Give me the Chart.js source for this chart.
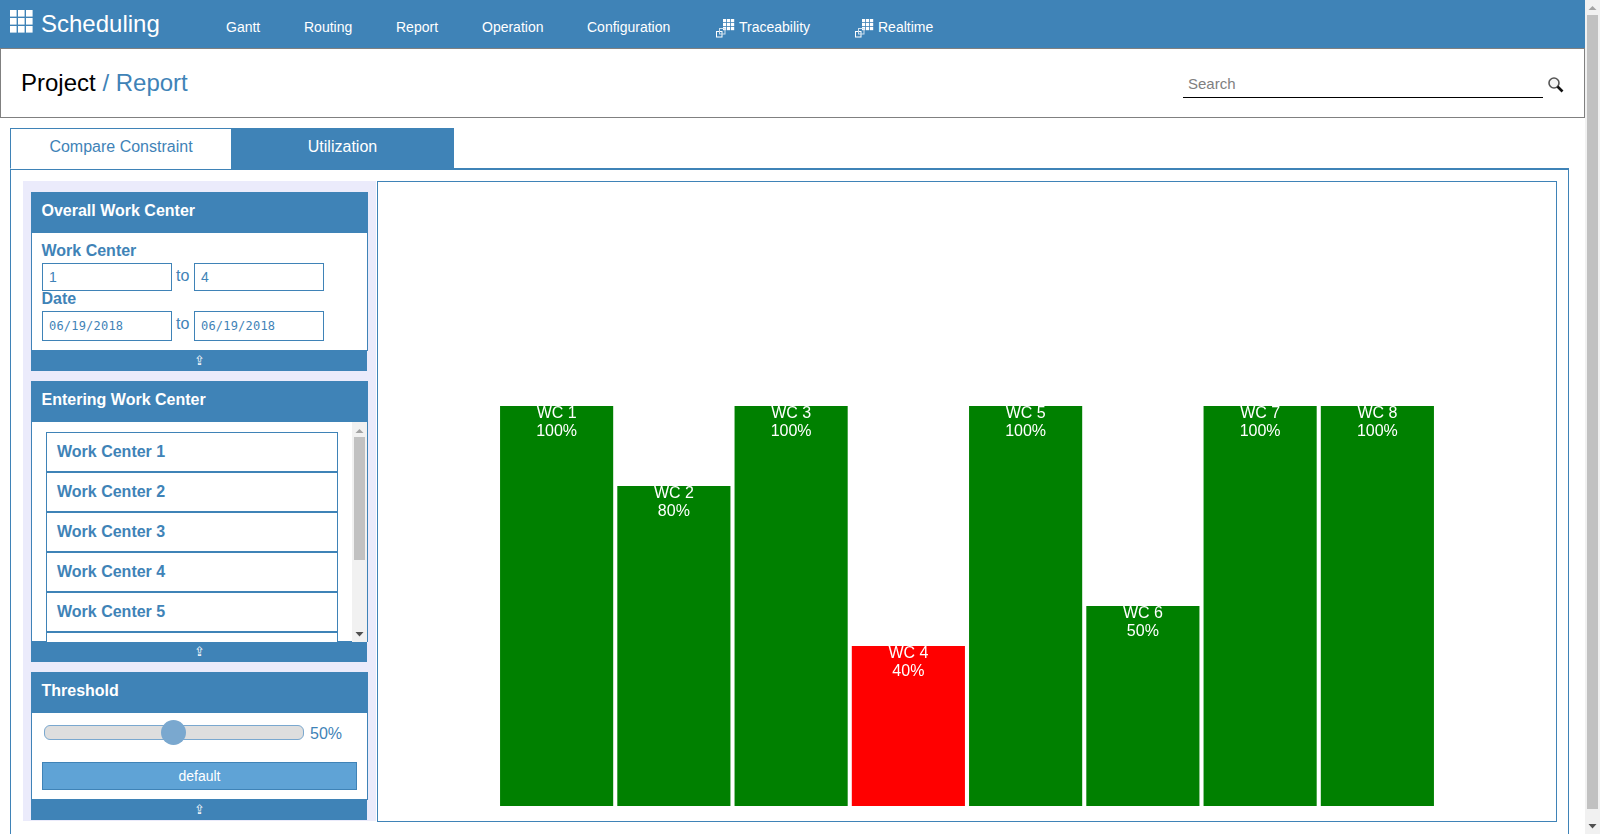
<!DOCTYPE html>
<html><head><meta charset="utf-8"><title>Scheduling</title>
<script src="https://cdn.jsdelivr.net/npm/chart.js@4"></script>
<style>
html,body{margin:0;padding:0;width:1600px;height:834px;overflow:hidden;background:#fff;font-family:"Liberation Sans",Arial,sans-serif;color:#3f83b7}
.a{position:absolute;box-sizing:border-box}
.t{position:absolute;white-space:nowrap;line-height:20px}
.blue{background:#3f83b7}
.white{color:#fff}
.b{font-weight:bold;font-size:16px}
.inp{position:absolute;box-sizing:border-box;background:#fff;border:1px solid #3f83b7;border-width:1px;font-size:14px;padding-left:6px;line-height:26px}
.foot{position:absolute;left:31px;width:336px;height:20px;background:#3f83b7;color:#fff;text-align:center;font-size:13px;line-height:20px}
.item{position:absolute;left:46px;width:292px;height:41px;box-sizing:border-box;border:1px solid #3f83b7;border-bottom:2px solid #3f83b7;font-weight:bold;font-size:16px;padding:9px 0 0 10px;line-height:20px;background:#fff}
.nav{top:17px;font-size:14px;color:#fff}
svg{position:absolute;display:block}
</style></head><body>
<div class="a blue" style="left:0;top:0;width:1585px;height:48px"></div>
<svg style="left:10px;top:10px" width="23" height="23"><g fill="#fff"><rect x="0" y="0" width="6.6" height="6.6"/><rect x="8" y="0" width="6.6" height="6.6"/><rect x="16" y="0" width="6.6" height="6.6"/><rect x="0" y="8" width="6.6" height="6.6"/><rect x="8" y="8" width="6.6" height="6.6"/><rect x="16" y="8" width="6.6" height="6.6"/><rect x="0" y="16" width="6.6" height="6.6"/><rect x="8" y="16" width="6.6" height="6.6"/><rect x="16" y="16" width="6.6" height="6.6"/></g></svg>
<div class="t white" style="left:41px;top:13px;font-size:24px;line-height:22px">Scheduling</div>
<div class="t nav" style="left:226px">Gantt</div>
<div class="t nav" style="left:304px">Routing</div>
<div class="t nav" style="left:396px">Report</div>
<div class="t nav" style="left:482px">Operation</div>
<div class="t nav" style="left:587px">Configuration</div>
<svg style="left:716px;top:18px" width="22" height="20"><g fill="#fff"><rect x="7" y="1" width="3.2" height="3.2"/><rect x="11" y="1" width="3.2" height="3.2"/><rect x="15" y="1" width="3.2" height="3.2"/><rect x="7" y="5" width="3.2" height="3.2"/><rect x="11" y="5" width="3.2" height="3.2"/><rect x="15" y="5" width="3.2" height="3.2"/><rect x="7" y="9" width="3.2" height="3.2"/><rect x="11" y="9" width="3.2" height="3.2"/><rect x="15" y="9" width="3.2" height="3.2"/></g><rect x="0.5" y="13.5" width="5.5" height="5.5" fill="none" stroke="#fff" stroke-width="1"/><rect x="3.5" y="10.5" width="5.5" height="5.5" fill="none" stroke="#cfe0ee" stroke-width="1"/></svg>
<div class="t nav" style="left:739px">Traceability</div>
<svg style="left:855px;top:18px" width="22" height="20"><g fill="#fff"><rect x="7" y="1" width="3.2" height="3.2"/><rect x="11" y="1" width="3.2" height="3.2"/><rect x="15" y="1" width="3.2" height="3.2"/><rect x="7" y="5" width="3.2" height="3.2"/><rect x="11" y="5" width="3.2" height="3.2"/><rect x="15" y="5" width="3.2" height="3.2"/><rect x="7" y="9" width="3.2" height="3.2"/><rect x="11" y="9" width="3.2" height="3.2"/><rect x="15" y="9" width="3.2" height="3.2"/></g><rect x="0.5" y="13.5" width="5.5" height="5.5" fill="none" stroke="#fff" stroke-width="1"/><rect x="3.5" y="10.5" width="5.5" height="5.5" fill="none" stroke="#cfe0ee" stroke-width="1"/></svg>
<div class="t nav" style="left:878px">Realtime</div>

<div class="a" style="left:0;top:48px;width:1585px;height:70px;border:1px solid #808080;border-top:1px solid #808080"></div>
<div class="t" style="left:21px;top:72px;font-size:24px;line-height:22px;color:#000">Project <span style="color:#3f83b7">/ Report</span></div>
<div class="t" style="left:1188px;top:74px;font-size:15px;color:#808080">Search</div>
<div class="a" style="left:1183px;top:97px;width:360px;height:1px;background:#000"></div>
<svg style="left:1547px;top:76px" width="18" height="18"><circle cx="7" cy="7" r="5" fill="#f4f4f4" stroke="#555" stroke-width="1.6"/><path d="M10.5 10.5L15.5 15.5" stroke="#111" stroke-width="2.6"/></svg>

<div class="a" style="left:1585px;top:0;width:15px;height:834px;background:#f1f1f1"></div>
<div class="a" style="left:1587px;top:15px;width:11px;height:794px;background:#c1c1c1"></div>
<svg style="left:1585px;top:0" width="15" height="834"><path d="M3.5 10L7.5 6L11.5 10Z" fill="#a3a3a3"/><path d="M3.5 824L7.5 828.5L11.5 824Z" fill="#505050"/></svg>

<div class="a" style="left:10px;top:168px;width:1559px;height:670px;border:1px solid #3f83b7;border-width:2px 1px 0 1px"></div>
<div class="a" style="left:10px;top:128px;width:222px;height:41px;background:#fff;border:1px solid #3f83b7;border-bottom:1px solid #fff"></div>
<div class="t" style="left:11px;width:220px;text-align:center;top:137px;font-size:16px">Compare Constraint</div>
<div class="a blue" style="left:231px;top:128px;width:223px;height:41px"></div>
<div class="t white" style="left:231px;width:223px;text-align:center;top:137px;font-size:16px">Utilization</div>

<div class="a" style="left:23px;top:181px;width:353px;height:640px;background:#ebebfb"></div>

<div class="a blue" style="left:31px;top:192px;width:337px;height:41px"></div>
<div class="t b white" style="left:41.5px;top:201px">Overall Work Center</div>
<div class="a" style="left:31px;top:233px;width:337px;height:118px;background:#fff;border:1px solid #3f83b7;border-top:0"></div>
<div class="t b" style="left:41.5px;top:241px">Work Center</div>
<div class="inp" style="left:42px;top:263px;width:130px;height:28px">1</div>
<div class="t" style="left:176px;top:266px;font-size:16px">to</div>
<div class="inp" style="left:194px;top:263px;width:130px;height:28px">4</div>
<div class="t b" style="left:41.5px;top:289px">Date</div>
<div class="inp" style="left:42px;top:311px;width:130px;height:30px;font:12px/28px 'DejaVu Sans Mono',monospace;letter-spacing:.2px">06/19/2018</div>
<div class="t" style="left:176px;top:314px;font-size:16px">to</div>
<div class="inp" style="left:194px;top:311px;width:130px;height:30px;font:12px/28px 'DejaVu Sans Mono',monospace;letter-spacing:.2px">06/19/2018</div>
<div class="foot" style="top:351px">⇪</div>

<div class="a blue" style="left:31px;top:381px;width:337px;height:41px"></div>
<div class="t b white" style="left:41.5px;top:390px">Entering Work Center</div>
<div class="a" style="left:31px;top:422px;width:337px;height:220px;background:#fff;border:1px solid #3f83b7;border-top:0;overflow:hidden"></div>
<div class="item" style="top:432px">Work Center 1</div>
<div class="item" style="top:472px">Work Center 2</div>
<div class="item" style="top:512px">Work Center 3</div>
<div class="item" style="top:552px">Work Center 4</div>
<div class="item" style="top:592px">Work Center 5</div>
<div class="a" style="left:46px;top:632px;width:292px;height:10px;border:1px solid #3f83b7;border-bottom:0;background:#fff"></div>
<div class="a" style="left:352px;top:422px;width:15px;height:220px;background:#f1f1f1"></div>
<div class="a" style="left:354px;top:437px;width:11px;height:123px;background:#c1c1c1"></div>
<svg style="left:352px;top:422px" width="15" height="220"><path d="M3.5 11L7.5 7L11.5 11Z" fill="#a3a3a3"/><path d="M3.5 210L7.5 214.500L11.500 210Z" fill="#505050"/></svg>
<div class="foot" style="top:642px">⇪</div>

<div class="a blue" style="left:31px;top:672px;width:337px;height:41px"></div>
<div class="t b white" style="left:41.500px;top:681px">Threshold</div>
<div class="a" style="left:31px;top:713px;width:337px;height:87px;background:#fff;border:1px solid #3f83b7;border-top:0"></div>
<div class="a" style="left:44px;top:725px;width:260px;height:15px;background:#dedede;border:1px solid #7aa8cf;border-radius:6px"></div>
<div class="a" style="left:161px;top:720px;width:25px;height:25px;background:#7aa8cf;border-radius:50%"></div>
<div class="t" style="left:310px;top:724px;font-size:16px">50%</div>
<div class="a" style="left:42px;top:762px;width:315px;height:28px;background:#5fa3d6;border:1px solid #3f83b7"></div>
<div class="t white" style="left:42px;width:315px;text-align:center;top:766px;font-size:14px">default</div>
<div class="foot" style="top:800px">⇪</div>

<div class="a" style="left:377px;top:181px;width:1180px;height:641px;border:1px solid #3f83b7;background:#fff"></div>
<div class="a" style="left:378px;top:182px;width:1178px;height:639px"><canvas id="chart" width="1178" height="639" style="display:block;width:1178px;height:639px"></canvas></div>

<script>
const categories = ["WC 1","WC 2","WC 3","WC 4","WC 5","WC 6","WC 7","WC 8"];
const utilization = [100,80,100,40,100,50,100,100];
const barColors = ["#008000","#008000","#008000","#ff0000","#008000","#008000","#008000","#008000"];
const valueLabels = ["100%","80%","100%","40%","100%","50%","100%","100%"];

const innerLabels = {
  id:"innerLabels",
  afterDatasetsDraw(chart){
    const {ctx} = chart;
    const bars = chart.getDatasetMeta(0).data;
    ctx.save();
    ctx.fillStyle = "#fff";
    ctx.font = "16px 'Liberation Sans', Arial, sans-serif";
    ctx.textAlign = "center";
    ctx.textBaseline = "middle";
    bars.forEach((bar,i)=>{
      ctx.fillText(categories[i], bar.x, bar.y+8);
      ctx.fillText(valueLabels[i], bar.x, bar.y+26);
    });
    ctx.restore();
  }
};

new Chart(document.getElementById("chart"),{
  type:"bar",
  data:{labels:categories,datasets:[{data:utilization,backgroundColor:barColors,borderWidth:0,barPercentage:0.965,categoryPercentage:1}]},
  options:{
    responsive:false,animation:false,
    layout:{padding:{left:120,right:120,top:24,bottom:15}},
    plugins:{legend:{display:false},tooltip:{enabled:false}},
    scales:{
      x:{display:false},
      y:{display:false,min:0,max:150}
    }
  },
  plugins:[innerLabels]
});
</script>
</body></html>
